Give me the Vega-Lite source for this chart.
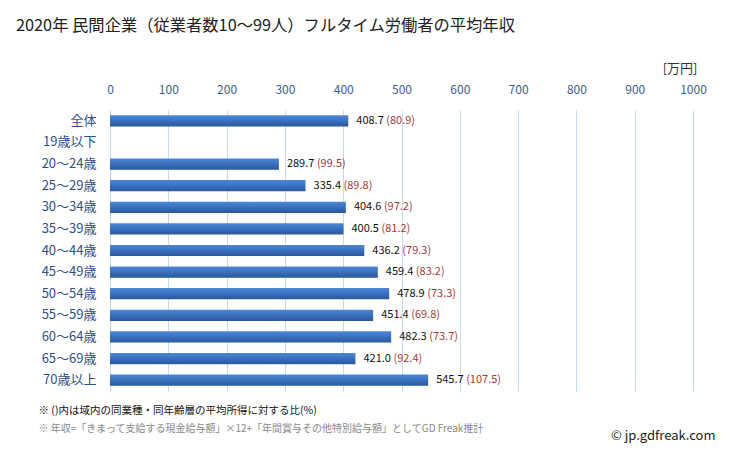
{
  "$schema": "https://vega.github.io/schema/vega-lite/v6.json",
  "width": 583,
  "height": 281,
  "autosize": {"type": "none"},
  "padding": {"left": 110, "top": 110, "right": 36, "bottom": 60},
  "background": "white",
  "title": {
    "text": "2020年 民間企業（従業者数10〜99人）フルタイム労働者の平均年収",
    "anchor": "start",
    "frame": "group",
    "dx": -94,
    "offset": 28,
    "fontSize": 16.3,
    "fontWeight": "normal",
    "color": "#222222",
    "font": "Noto Sans CJK JP"
  },
  "data": {
    "values": [
      {"group": "全体", "value": 408.7, "ratio": 80.9},
      {"group": "19歳以下", "value": null, "ratio": null},
      {"group": "20〜24歳", "value": 289.7, "ratio": 99.5},
      {"group": "25〜29歳", "value": 335.4, "ratio": 89.8},
      {"group": "30〜34歳", "value": 404.6, "ratio": 97.2},
      {"group": "35〜39歳", "value": 400.5, "ratio": 81.2},
      {"group": "40〜44歳", "value": 436.2, "ratio": 79.3},
      {"group": "45〜49歳", "value": 459.4, "ratio": 83.2},
      {"group": "50〜54歳", "value": 478.9, "ratio": 73.3},
      {"group": "55〜59歳", "value": 451.4, "ratio": 69.8},
      {"group": "60〜64歳", "value": 482.3, "ratio": 73.7},
      {"group": "65〜69歳", "value": 421.0, "ratio": 92.4},
      {"group": "70歳以上", "value": 545.7, "ratio": 107.5}
    ]
  },
  "transform": [
    {"calculate": "datum.ratio == null ? '' : '(' + format(datum.ratio, '.1f') + ')'", "as": "ratioLabel"}
  ],
  "resolve": {"axis": {"x": "independent", "y": "independent"}},
  "layer": [
    {
      "mark": {
        "type": "bar",
        "color": {
          "gradient": "linear",
          "x1": 0, "y1": 0, "x2": 0, "y2": 1,
          "stops": [
            {"offset": 0, "color": "#4d88d6"},
            {"offset": 0.5, "color": "#3a70c0"},
            {"offset": 1, "color": "#2a5799"}
          ]
        }
      },
      "encoding": {
        "y": {
          "field": "group", "type": "nominal", "sort": null,
          "scale": {
            "domain": ["全体", "19歳以下", "20〜24歳", "25〜29歳", "30〜34歳", "35〜39歳", "40〜44歳", "45〜49歳", "50〜54歳", "55〜59歳", "60〜64歳", "65〜69歳", "70歳以上"],
            "paddingInner": 0.48, "paddingOuter": 0.24
          },
          "axis": {
            "title": null, "ticks": false, "domain": false, "grid": false,
            "labelPadding": 14, "labelFontSize": 13, "labelColor": "#2f4f8a",
            "labelFont": "Noto Sans CJK JP"
          }
        },
        "x": {
          "field": "value", "type": "quantitative",
          "scale": {"domain": [0, 1000], "nice": false, "zero": true},
          "axis": {
            "orient": "top", "values": [0,100,200,300,400,500,600,700,800,900,1000], "format": "d",
            "ticks": false, "domain": false, "grid": true, "gridColor": "#c9d9ec", "gridWidth": 1,
            "labelPadding": 14, "labelFontSize": 12, "labelColor": "#3d5d8f",
            "labelFont": "Noto Sans CJK JP", "labelFlush": false,
            "title": "[万円]", "titleX": 587, "titleY": -38, "titleAlign": "right",
            "titleAnchor": null, "titleBaseline": "alphabetic", "titleAngle": 0,
            "titleFontSize": 13, "titleFontWeight": "normal", "titleColor": "#333333",
            "titleFont": "Noto Sans CJK JP"
          }
        }
      }
    },
    {
      "mark": {"type": "text", "align": "left", "baseline": "middle", "dx": 8, "fontSize": 11, "color": "#111111", "font": "Noto Sans CJK JP"},
      "encoding": {
        "y": {
          "field": "group", "type": "nominal", "sort": null,
          "axis": {
            "orient": "right", "labels": false, "ticks": false, "domain": false, "grid": false,
            "title": "© jp.gdfreak.com", "titleAngle": 0, "titleX": 22, "titleY": 329,
            "titleAlign": "right", "titleBaseline": "alphabetic", "titleFontSize": 13,
            "titleFontWeight": "normal", "titleColor": "#222222", "titleFont": "Noto Sans CJK JP"
          }
        },
        "x": {
          "field": "value", "type": "quantitative",
          "axis": {
            "orient": "bottom", "labels": false, "ticks": false, "domain": false, "grid": false,
            "title": "※ ()内は域内の同業種・同年齢層の平均所得に対する比(%)",
            "titleX": -72, "titleY": 22, "titleAlign": "left", "titleAnchor": null,
            "titleBaseline": "alphabetic", "titleFontSize": 10.5, "titleFontWeight": "normal",
            "titleColor": "#111111", "titleFont": "Noto Sans CJK JP"
          }
        },
        "text": {"field": "value", "type": "quantitative", "format": ".1f"}
      }
    },
    {
      "mark": {"type": "text", "align": "left", "baseline": "middle", "dx": 38, "fontSize": 11, "color": "#a93a3a", "font": "Noto Sans CJK JP"},
      "encoding": {
        "y": {"field": "group", "type": "nominal", "sort": null, "axis": null},
        "x": {
          "field": "value", "type": "quantitative",
          "axis": {
            "orient": "bottom", "labels": false, "ticks": false, "domain": false, "grid": false,
            "title": "※ 年収=「きまって支給する現金給与額」×12+「年間賞与その他特別給与額」としてGD Freak推計",
            "titleX": -72, "titleY": 40, "titleAlign": "left", "titleAnchor": null,
            "titleBaseline": "alphabetic", "titleFontSize": 10, "titleFontWeight": "normal",
            "titleColor": "#888888", "titleFont": "Noto Sans CJK JP"
          }
        },
        "text": {"field": "ratioLabel", "type": "nominal"}
      }
    }
  ],
  "config": {"view": {"stroke": null}}
}
